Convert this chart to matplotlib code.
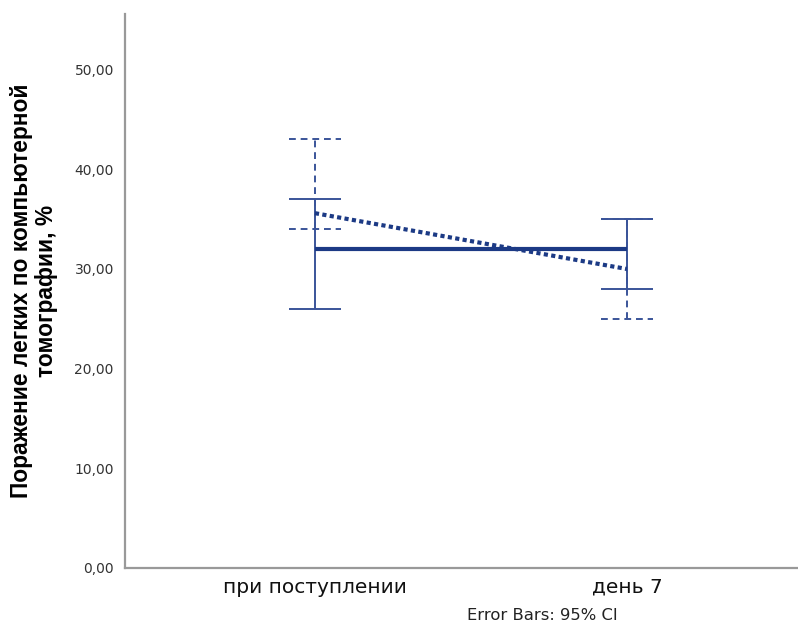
import matplotlib.pyplot as plt
import numpy as np

plt.rcParams['font.family'] = ['DejaVu Sans']

categories = ['при поступлении', 'день 7']

# group 1: solid line, solid error bars
mean_a = [32.0, 32.0]
low_a = [26.0, 28.0]
high_a = [37.0, 35.0]

# group 2: dotted line, dashed error bars
mean_b = [35.6, 30.0]
low_b = [34.0, 25.0]
high_b = [43.0, 35.0]

yticks = [0, 10, 20, 30, 40, 50]

line_col = '#1c3a85'
bar_col = '#3a5499'

fig = plt.figure(figsize=(7.98, 6.29), dpi=100)
ax = fig.add_axes([0.1566, 0.097, 0.842, 0.881])

x = np.arange(len(categories))
cap = 0.084  # half-width of the whisker caps, in category units


def draw_bars(lo, hi, ls):
    ax.vlines(x, lo, hi, colors=bar_col, linewidth=1.4, linestyles=ls, zorder=2)
    ax.hlines(lo, x - cap, x + cap, colors=bar_col, linewidth=1.4,
              linestyles=ls, zorder=2)
    ax.hlines(hi, x - cap, x + cap, colors=bar_col, linewidth=1.4,
              linestyles=ls, zorder=2)


draw_bars(low_a, high_a, 'solid')
draw_bars(low_b, high_b, (0, (3.5, 2.5)))

ax.plot(x, mean_a, color=line_col, lw=3, solid_capstyle='butt', zorder=3)
ax.plot(x, mean_b, color=line_col, lw=3, linestyle=(0, (1, 0.8)), zorder=3)

ax.set_xlim(-0.609, 1.545)
ax.set_ylim(0, 55.6)
ax.set_yticks(yticks)
ax.set_yticklabels([f'{v:.2f}'.replace('.', ',') for v in yticks],
                   fontsize=10, color='#333333')
ax.set_xticks(x)
ax.set_xticklabels(categories, fontsize=14.5, color='#111111')
ax.tick_params(axis='y', length=0, pad=8)
ax.tick_params(axis='x', length=0, pad=7)

for side in ['top', 'right']:
    ax.spines[side].set_visible(False)
for side in ['left', 'bottom']:
    ax.spines[side].set_color('#999999')
    ax.spines[side].set_linewidth(1.6)

ax.set_ylabel('Поражение легких по компьютерной\nтомографии, %',
              family=['Liberation Sans', 'DejaVu Sans'],
              fontsize=16.4, fontweight='bold', labelpad=12, linespacing=1.1)

fig.text(0.680, 0.010, 'Error Bars: 95% CI', ha='center', va='bottom',
         fontsize=11.8, color='#222222')

fig.savefig('out.png', dpi=100)
